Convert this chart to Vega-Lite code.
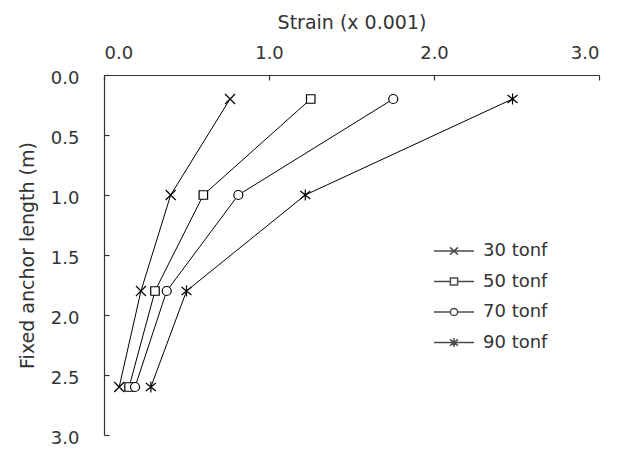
{
  "$schema": "https://vega.github.io/schema/vega-lite/v6.json",
  "width": 495,
  "height": 360,
  "autosize": "none",
  "padding": {"left": 104, "top": 75, "right": 28, "bottom": 15},
  "background": "white",
  "config": {
    "view": {"stroke": null},
    "font": "DejaVu Sans",
    "axis": {"grid": false, "domainColor": "#333", "tickColor": "#333", "labelColor": "#333", "titleColor": "#333", "labelFont": "DejaVu Sans", "titleFont": "DejaVu Sans", "titleFontWeight": "normal", "labelFontSize": 18, "titleFontSize": 19, "tickSize": -5, "domainWidth": 1.2, "tickWidth": 1.2}
  },
  "data": {
    "values": [
      {"load": "30 tonf", "depth": 0.2, "strain": 0.764},
      {"load": "30 tonf", "depth": 1.0, "strain": 0.404},
      {"load": "30 tonf", "depth": 1.8, "strain": 0.224},
      {"load": "30 tonf", "depth": 2.6, "strain": 0.092},
      {"load": "50 tonf", "depth": 0.2, "strain": 1.253},
      {"load": "50 tonf", "depth": 1.0, "strain": 0.602},
      {"load": "50 tonf", "depth": 1.8, "strain": 0.309},
      {"load": "50 tonf", "depth": 2.6, "strain": 0.152},
      {"load": "70 tonf", "depth": 0.2, "strain": 1.753},
      {"load": "70 tonf", "depth": 1.0, "strain": 0.814},
      {"load": "70 tonf", "depth": 1.8, "strain": 0.38},
      {"load": "70 tonf", "depth": 2.6, "strain": 0.188},
      {"load": "90 tonf", "depth": 0.2, "strain": 2.476},
      {"load": "90 tonf", "depth": 1.0, "strain": 1.22},
      {"load": "90 tonf", "depth": 1.8, "strain": 0.5},
      {"load": "90 tonf", "depth": 2.6, "strain": 0.284}
    ]
  },
  "encoding": {
    "x": {"field": "strain", "type": "quantitative", "scale": {"domain": [0, 3], "nice": false, "zero": false},
      "axis": {"orient": "top", "title": "Strain (x 0.001)", "values": [0, 1, 2, 3], "format": ".1f", "labelPadding": 18, "titlePadding": 12}},
    "y": {"field": "depth", "type": "quantitative", "scale": {"domain": [0, 3], "reverse": true, "nice": false, "zero": false},
      "axis": {"title": "Fixed anchor length (m)", "values": [0, 0.5, 1, 1.5, 2, 2.5, 3], "format": ".1f", "labelPadding": 30, "labelOffset": 3, "titlePadding": 13}}
  },
  "layer": [
    {
      "mark": {"type": "line", "color": "black", "strokeWidth": 1},
      "encoding": {"detail": {"field": "load"}, "order": {"field": "depth"}}
    },
    {
      "mark": {"type": "point", "filled": false, "fill": "white", "fillOpacity": 1, "stroke": "black", "strokeWidth": 1.2, "size": 100},
      "encoding": {
        "shape": {"field": "load", "type": "nominal", "legend": null,
          "scale": {"domain": ["30 tonf", "50 tonf", "70 tonf", "90 tonf"],
            "range": ["M-1,-1L1,1M-1,1L1,-1", "M-0.85,-0.85H0.85V0.85H-0.85Z", "M-0.9,0A0.9,0.9 0 1,0 0.9,0A0.9,0.9 0 1,0 -0.9,0Z", "M-1,-0.8L1,0.8M-1,0.8L1,-0.8M0,-1.1L0,1.1"]}}
      }
    },
    {
      "transform": [{"filter": "datum.depth < 0"}],
      "mark": {"type": "point", "filled": false, "fill": "white", "stroke": "black", "size": 64},
      "encoding": {
        "shape": {"field": "load", "type": "nominal",
          "scale": {"domain": ["30 tonf", "50 tonf", "70 tonf", "90 tonf"],
            "range": ["M-5,0L5,0M-1,-0.9L1,0.9M-1,0.9L1,-0.9", "M-5,0L-0.9,0M0.9,0L5,0M-0.9,-0.9H0.9V0.9H-0.9Z", "M-5,0L-0.9,0M0.9,0L5,0M-0.9,0A0.9,0.9 0 1,0 0.9,0A0.9,0.9 0 1,0 -0.9,0Z", "M-5,0L5,0M-1,-0.8L1,0.8M-1,0.8L1,-0.8M0,-1.1L0,1.1"]},
          "legend": {"title": null, "orient": "none", "legendX": 341, "legendY": 167, "symbolSize": 64, "rowPadding": 12.5, "labelFontSize": 18, "labelColor": "#333", "labelFont": "DejaVu Sans", "labelOffset": 20}
        }
      }
    }
  ],
  "resolve": {"scale": {"shape": "independent"}}
}
